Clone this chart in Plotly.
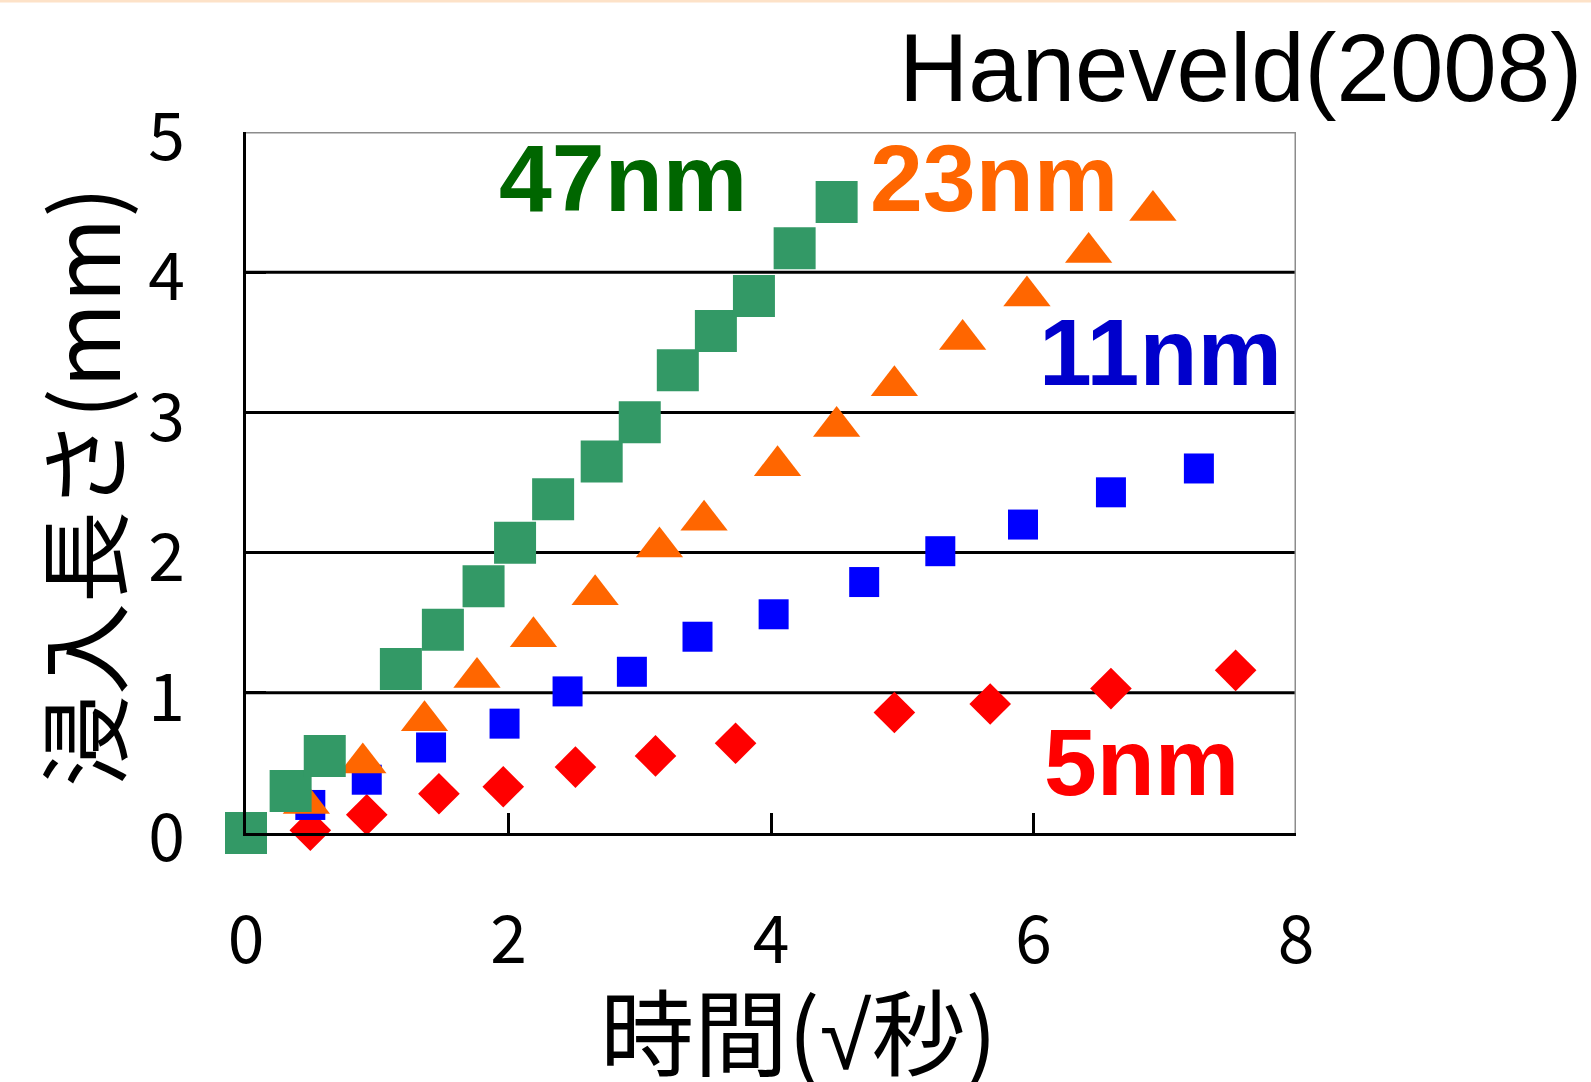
import plotly.graph_objects as go

# Penetration length vs sqrt(time) for four pore sizes
x_47nm = [0.00, 0.34, 0.60, 1.18, 1.50, 1.81, 2.05, 2.34, 2.71, 3.00, 3.29, 3.58, 3.87, 4.18, 4.50]
y_47nm = [0.00, 0.30, 0.55, 1.17, 1.45, 1.76, 2.07, 2.38, 2.65, 2.93, 3.30, 3.58, 3.83, 4.17, 4.50]

x_23nm = [0.46, 0.89, 1.36, 1.76, 2.19, 2.66, 3.15, 3.49, 4.05, 4.50, 4.94, 5.46, 5.95, 6.42, 6.91]
y_23nm = [0.21, 0.50, 0.80, 1.11, 1.40, 1.70, 2.04, 2.23, 2.62, 2.90, 3.19, 3.52, 3.83, 4.14, 4.44]

x_11nm = [0.49, 0.92, 1.41, 1.97, 2.45, 2.94, 3.44, 4.02, 4.71, 5.29, 5.92, 6.59, 7.26]
y_11nm = [0.20, 0.38, 0.61, 0.78, 1.01, 1.15, 1.40, 1.56, 1.79, 2.01, 2.20, 2.43, 2.60]

x_5nm = [0.49, 0.92, 1.47, 1.96, 2.51, 3.12, 3.73, 4.94, 5.67, 6.59, 7.54]
y_5nm = [0.02, 0.13, 0.28, 0.33, 0.47, 0.55, 0.64, 0.86, 0.92, 1.03, 1.16]

x_ticks = [0, 2, 4, 6, 8]
y_ticks = [0, 1, 2, 3, 4, 5]

series_labels = ["47nm", "23nm", "11nm", "5nm"]
label_x = [2.87, 5.70, 6.97, 6.82]
label_y = [4.67, 4.67, 3.43, 0.51]
label_colors = ["#006600", "#FF6600", "#0000CC", "#FF0000"]

source_text = "Haneveld(2008)"
x_title = "時間(<span style='font-family:Liberation Sans'>√</span>秒)"
y_title = "浸入長さ(mm)"

W, H = 1591, 1082
ML, MR, MT, MB = 246, 295, 132, 249
PW, PH = W - ML - MR, H - MT - MB

JP = "Noto Sans CJK JP"
fig = go.Figure()

# drawn bottom to top: 5nm, 11nm, 23nm, 47nm
fig.add_trace(go.Scatter(x=x_5nm, y=y_5nm, mode="markers", name="5nm",
                         marker=dict(symbol="diamond", size=32, color="#FF0000"),
                         cliponaxis=False))
fig.add_trace(go.Scatter(x=x_11nm, y=y_11nm, mode="markers", name="11nm",
                         marker=dict(symbol="square", size=30, color="#0000FF"),
                         cliponaxis=False))
fig.add_trace(go.Scatter(x=x_23nm, y=y_23nm, mode="markers", name="23nm",
                         marker=dict(symbol="triangle-up", size=41, color="#FF6600"),
                         cliponaxis=False))
fig.add_trace(go.Scatter(x=x_47nm, y=y_47nm, mode="markers", name="47nm",
                         marker=dict(symbol="square", size=42, color="#339966"),
                         cliponaxis=False))

# horizontal grid at interior ticks
for gy in y_ticks[1:-1]:
    fig.add_shape(type="line", xref="paper", x0=0, x1=1, yref="y", y0=gy, y1=gy,
                  line=dict(color="black", width=3), layer="below")
# grey frame on top and right
fig.add_shape(type="line", xref="paper", x0=0, x1=1, yref="y", y0=y_ticks[-1], y1=y_ticks[-1],
              line=dict(color="#8C8C8C", width=3), layer="below")
fig.add_shape(type="line", xref="x", x0=x_ticks[-1], x1=x_ticks[-1], yref="paper", y0=0, y1=1,
              line=dict(color="#8C8C8C", width=3), layer="below")
# thin peach rule along the very top of the page
fig.add_shape(type="rect", xref="paper", yref="paper",
              x0=-ML / PW, x1=1 + MR / PW, y0=1 + (MT - 2.5) / PH, y1=1 + MT / PH,
              line=dict(width=0), fillcolor="#FDE2C8", layer="above")

for txt, lx, ly, col in zip(series_labels, label_x, label_y, label_colors):
    fig.add_annotation(x=lx, y=ly, xref="x", yref="y", text=txt, showarrow=False,
                       xanchor="center", yanchor="middle",
                       font=dict(family="Liberation Sans", size=95, color=col, weight="bold"))

fig.add_annotation(x=(1240 - ML) / PW, y=(MT + PH - 67) / PH, xref="paper", yref="paper",
                   text=source_text, showarrow=False, xanchor="center", yanchor="middle",
                   font=dict(family="Liberation Sans", size=96, color="black"))
fig.add_annotation(x=(798 - ML) / PW, y=(MT + PH - 1028) / PH, xref="paper", yref="paper",
                   text=x_title, showarrow=False, xanchor="center", yanchor="middle",
                   font=dict(family=JP, size=94, color="black"))
fig.add_annotation(x=(79 - ML) / PW, y=(MT + PH - 487) / PH, xref="paper", yref="paper",
                   text=y_title, showarrow=False, xanchor="center", yanchor="middle",
                   textangle=-90, font=dict(family=JP, size=92, color="black"))

fig.update_xaxes(range=[x_ticks[0], x_ticks[-1]], tickvals=x_ticks, ticktext=[str(v) for v in x_ticks],
                 showgrid=False, zeroline=False, showline=True, linecolor="black", linewidth=3,
                 ticks="inside", ticklen=20, tickwidth=3, tickcolor="black",
                 ticklabelstandoff=48, tickfont=dict(family=JP, size=66, color="black"))
fig.update_yaxes(range=[y_ticks[0], y_ticks[-1]], tickvals=y_ticks, ticktext=[str(v) for v in y_ticks],
                 showgrid=False, zeroline=False, showline=True, linecolor="black", linewidth=3,
                 ticks="inside", ticklen=20, tickwidth=3, tickcolor="black",
                 ticklabelstandoff=45, ticklabelshift=5,
                 tickfont=dict(family=JP, size=66, color="black"))

fig.update_layout(width=W, height=H, margin=dict(l=ML, r=MR, t=MT, b=MB),
                  paper_bgcolor="white", plot_bgcolor="white", showlegend=False)

fig.write_html("out.html")
